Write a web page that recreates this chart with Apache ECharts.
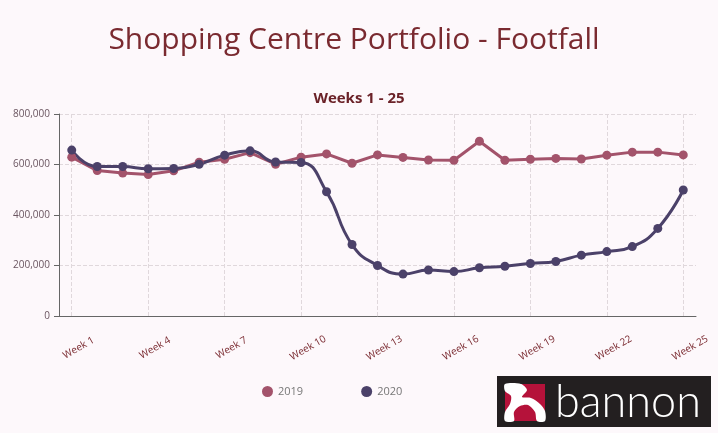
<!DOCTYPE html>
<html>
<head>
<meta charset="utf-8">
<script src="https://cdn.jsdelivr.net/npm/echarts@6/dist/echarts.min.js"></script>
<style>
html,body{margin:0;padding:0;background:#fdf8fb;}
#c{width:718px;height:433px;}
</style>
</head>
<body>
<div id="c"></div>
<script>
const weeks = Array.from({length:25},(_,i)=>'Week '+(i+1));
const footfall2019 = [629000,576000,566000,560000,575000,609000,621000,647000,601000,629000,642000,605000,638000,628000,618000,617000,692000,617000,621000,624000,622000,637000,649000,649000,638000];
const footfall2020 = [657000,592000,592000,583000,584000,601000,637000,654000,610000,608000,492000,283000,200000,166000,182000,176000,191000,197000,208000,216000,241000,255000,275000,347000,499000];
const yTicks = [0,200000,400000,600000,800000];

const chart = echarts.init(document.getElementById('c'));
const txt = '#7a2a30';
chart.setOption({
  backgroundColor:'#fdf8fb',
  textStyle:{fontFamily:'Open Sans'},
  title:[
    {text:'Shopping Centre Portfolio - Footfall',left:349,top:20,textAlign:'center',
     textStyle:{fontSize:30,fontWeight:'normal',color:'#7a2a30',fontFamily:'Open Sans'}},
    {text:'Weeks 1 - 25',left:354,top:86,textAlign:'center',
     textStyle:{fontSize:15,fontWeight:'bold',color:'#6b2228',fontFamily:'Open Sans'}}
  ],
  legend:{
    bottom:31,left:257,itemGap:58,icon:'circle',itemWidth:11,itemHeight:11,
    textStyle:{color:'#777',fontSize:11,fontFamily:'Open Sans'},
    data:['2019','2020']
  },
  grid:{left:59,right:22,top:114,bottom:117},
  xAxis:{
    type:'category',data:weeks,boundaryGap:true,
    axisLine:{lineStyle:{color:'#666'}},
    axisTick:{alignWithLabel:true,interval:2,length:5,lineStyle:{color:'#666'}},
    axisLabel:{interval:2,rotate:30,margin:36,align:'center',verticalAlign:'middle',padding:[0,0,0,16],
      color:txt,fontSize:10,fontFamily:'Open Sans'},
    splitLine:{show:true,interval:2,alignWithLabel:true,lineStyle:{color:'#e0d8dc',type:'dashed'}}
  },
  yAxis:{
    type:'value',min:yTicks[0],max:yTicks[yTicks.length-1],interval:200000,
    axisLine:{show:true,lineStyle:{color:'#666'}},
    axisTick:{show:true,length:5,lineStyle:{color:'#666'}},
    axisLabel:{color:'#6a5560',fontSize:10,margin:9,fontFamily:'Open Sans',
      formatter:v=>v.toLocaleString('en-US')},
    splitLine:{lineStyle:{color:'#e0d8dc',type:'dashed'}}
  },
  series:[
    {name:'2019',type:'line',data:footfall2019,symbol:'circle',symbolSize:9,
     lineStyle:{width:3,color:'#a3536b'},itemStyle:{color:'#a3536b'}},
    {name:'2020',type:'line',data:footfall2020,symbol:'circle',symbolSize:9,smooth:0.5,
     lineStyle:{width:3,color:'#4b4169'},itemStyle:{color:'#4b4169'}}
  ],
  graphic:[
    {type:'rect',shape:{x:497,y:376,width:214,height:51},style:{fill:'#231f20'}},
    {type:'rect',shape:{x:505,y:384,width:40,height:37},style:{fill:'#b5123a'}},
    {type:'polygon',shape:{smooth:0.3,points:[[505,384],[521,384],[527,390],[522,397],[531,398],[540,404],[545,411],[545,421],[537,421],[535,412],[528,405],[520,406],[514,412],[514,421],[505,421],[505,412],[510,404],[511,396],[505,391]]},
     style:{fill:'#ffffff'}},
    {type:'text',x:555,y:380,style:{text:'bannon',fill:'#ffffff',font:'300 45px Lato'}}
  ]
});
</script>
</body>
</html>
